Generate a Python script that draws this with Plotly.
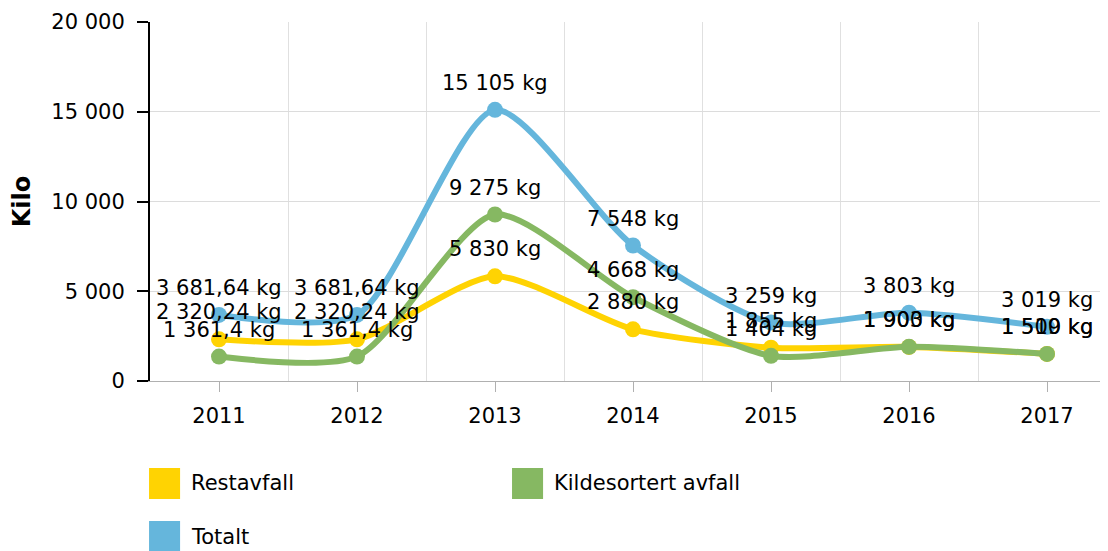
import plotly.graph_objects as go

years = ["2011", "2012", "2013", "2014", "2015", "2016", "2017"]
restavfall = [2320.24, 2320.24, 5830, 2880, 1855, 1900, 1509]
kildesortert = [1361.4, 1361.4, 9275, 4668, 1404, 1903, 1510]
totalt = [3681.64, 3681.64, 15105, 7548, 3259, 3803, 3019]

series_names = ["Restavfall", "Kildesortert avfall", "Totalt"]
series_values = [restavfall, kildesortert, totalt]
series_colors = ["#FFD302", "#86B862", "#65B6DC"]

y_ticks = [0, 5000, 10000, 15000, 20000]
y_ticktext = ["0", "5 000", "10 000", "15 000", "20 000"]

FONT = "DejaVu Sans, Verdana, sans-serif"


def fmt(v):
    if float(v).is_integer():
        s = f"{int(v):,}".replace(",", " ")
    else:
        ip = int(v)
        dec = repr(float(v)).split(".")[1]
        s = f"{ip:,}".replace(",", " ") + "," + dec
    return s + " kg"


xs = list(range(len(years)))
fig = go.Figure()
for name, vals, col in zip(series_names, series_values, series_colors):
    fig.add_trace(go.Scatter(
        x=xs, y=vals, name=name, mode="lines+markers",
        line=dict(color=col, width=6, shape="spline", smoothing=0.7),
        marker=dict(color=col, size=16),
        showlegend=False, hoverinfo="skip",
    ))

annotations = []
for vals in series_values:
    for x, v in zip(xs, vals):
        annotations.append(dict(
            x=x, y=v, xref="x", yref="y", text=fmt(v), showarrow=False,
            yshift=27, font=dict(family=FONT, size=21, color="#000000"),
        ))

# custom legend (squares + labels)
legend_pos = [(-0.001, -0.2423), (0.3779, -0.2423), (-0.001, -0.39)]
shapes = []
for (lx, ly), name, col in zip(legend_pos, series_names, series_colors):
    shapes.append(dict(type="rect", xref="paper", yref="paper",
                       x0=lx, x1=lx + 0.0324, y0=ly, y1=ly - 0.0864,
                       fillcolor=col, line=dict(width=0)))
    annotations.append(dict(x=lx + 0.0417, y=ly - 0.0432, xref="paper", yref="paper",
                            text=name, showarrow=False, xanchor="left", yanchor="middle",
                            font=dict(family=FONT, size=21, color="#000000")))

fig.update_layout(
    width=1100, height=543,
    margin=dict(l=142, r=0, t=14, b=170),
    paper_bgcolor="white", plot_bgcolor="white",
    font=dict(family=FONT, size=21, color="#000000"),
    xaxis=dict(
        range=[-0.5, 6.442], tickvals=xs, ticktext=years, automargin=False,
        showgrid=False, zeroline=False,
        showline=True, linecolor="#b0b0b0", linewidth=1,
        ticks="outside", ticklen=10, tickcolor="#b0b0b0", tickwidth=1,
        ticklabelstandoff=6,
        tickfont=dict(family=FONT, size=21, color="#000000"),
        minor=dict(tickmode="linear", tick0=0.5, dtick=1, showgrid=True,
                   gridcolor="#e0e0e0", gridwidth=1, ticks=""),
    ),
    yaxis=dict(
        range=[0, 20000], tickvals=y_ticks, ticktext=y_ticktext, automargin=False,
        showgrid=True, gridcolor="#dcdcdc", gridwidth=1, zeroline=False,
        showline=True, linecolor="#000000", linewidth=2,
        ticks="outside", ticklen=11, tickcolor="#000000", tickwidth=2,
        ticklabelstandoff=8,
        tickfont=dict(family=FONT, size=21, color="#000000"),
        title=dict(text="<b>Kilo</b>", font=dict(family=FONT, size=24, color="#000000"), standoff=16),
    ),
    shapes=shapes,
    annotations=annotations,
    showlegend=False,
)

fig.write_html("out.html")
